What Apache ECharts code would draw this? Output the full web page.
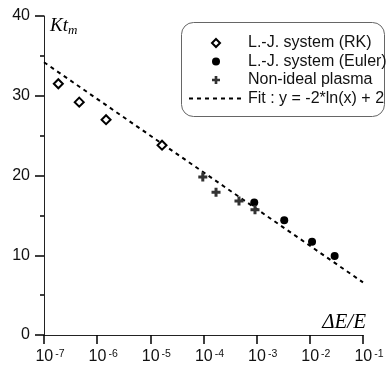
<!DOCTYPE html>
<html><head><meta charset="utf-8">
<script src="https://cdn.jsdelivr.net/npm/echarts@6/dist/echarts.min.js"></script>
<style>html,body{margin:0;padding:0;background:#fff}#c{width:387px;height:368px}</style>
</head><body><div id="c"></div>
<script>
// Data
const rkX = [1.86e-7, 4.6e-7, 1.47e-6, 1.66e-5];
const rkY = [31.5, 29.2, 27.0, 23.8];
const eulerX = [9.0e-4, 3.3e-3, 1.1e-2, 2.93e-2];
const eulerY = [16.6, 14.4, 11.7, 9.9];
const plasmaX = [9.7e-5, 1.72e-4, 4.65e-4, 9.3e-4];
const plasmaY = [19.8, 17.9, 16.8, 15.7];
const fitX = [1e-7, 1e-1];
const fitY = [34.2, 6.6];
const xTickExponents = ['-7', '-6', '-5', '-4', '-3', '-2', '-1'];
const yTicks = [0, 10, 20, 30, 40];
const seriesNames = ['L.-J. system (RK)', 'L.-J. system (Euler)', 'Non-ideal plasma', 'Fit : y = -2*ln(x) + 2'];

const zip = (xs, ys) => xs.map((x, i) => [x, ys[i]]);
const sans = 'Liberation Sans, Arial, Helvetica, sans-serif';
const serif = 'Liberation Serif, Times New Roman, serif';
const plusPath = 'path://M3,0 H6 V3 H9 V6 H6 V9 H3 V6 H0 V3 H3 Z';
const diamondPath = 'path://M5,0 L10,5 L5,10 L0,5 Z';
const tickLine = {color: '#000', width: 1.5};

const yMin = yTicks[0], yMax = yTicks[yTicks.length - 1];
const xMin = fitX[0], xMax = fitX[1];

const chart = echarts.init(document.getElementById('c'), null, {renderer: 'canvas'});
chart.setOption({
  animation: false,
  backgroundColor: '#fff',
  grid: {left: 44, right: 24, top: 16, bottom: 33, containLabel: false},
  xAxis: {
    type: 'log', logBase: 10, min: xMin, max: xMax, splitNumber: 6,
    name: '{n|ΔE/E}',
    nameLocation: 'end', nameGap: 3,
    nameTextStyle: {align: 'right', verticalAlign: 'bottom', padding: [0, 0, 2, 0],
      rich: {n: {fontFamily: serif, fontStyle: 'italic', fontSize: 21, color: '#000'}}},
    axisLine: {show: true, onZero: false, lineStyle: {color: '#222', width: 1}},
    axisTick: {show: true, length: 9, inside: false, lineStyle: tickLine},
    splitLine: {show: false},
    axisLabel: {
      margin: 14,
      formatter: function (v) {
        const e = Math.round(Math.log10(v));
        const s = xTickExponents.find(t => Number(t) === e) || String(e);
        return '{p|}{b|10}{e|' + s + '}';
      },
      rich: {
        p: {width: 12},
        b: {fontFamily: sans, fontSize: 16, color: '#111'},
        e: {fontFamily: sans, fontSize: 10.5, color: '#111', verticalAlign: 'top', padding: [0, 0, 0, 2]}
      }
    }
  },
  yAxis: {
    type: 'value', min: yMin, max: yMax, interval: 10,
    name: '{K|Kt}{m|m}',
    nameLocation: 'end', nameGap: -10,
    nameTextStyle: {align: 'left', verticalAlign: 'middle', padding: [0, 0, 0, 6],
      rich: {
        K: {fontFamily: serif, fontStyle: 'italic', fontSize: 19, color: '#000'},
        m: {fontFamily: serif, fontStyle: 'italic', fontSize: 13, color: '#000', verticalAlign: 'bottom', padding: [10, 0, 0, 0]}
      }},
    axisLine: {show: true, onZero: false, lineStyle: {color: '#222', width: 1}},
    axisTick: {show: true, length: 9, inside: false, lineStyle: tickLine},
    minorTick: {show: true, splitNumber: 2, length: 4, lineStyle: tickLine},
    splitLine: {show: false},
    axisLabel: {margin: 14, fontFamily: sans, fontSize: 16, color: '#111'}
  },
  graphic: [{
    type: 'rect', z: 0, silent: true,
    shape: {x: 181.5, y: 22.5, width: 203, height: 94, r: 12},
    style: {fill: 'rgba(255,255,255,0)', stroke: '#666', lineWidth: 1}
  }],
  legend: {
    show: true, orient: 'vertical', left: 188, top: 35,
    itemWidth: 54, itemHeight: 8, itemGap: 2.5, padding: 0,
    textStyle: {fontFamily: sans, fontSize: 16, color: '#111', lineHeight: 16},
    data: seriesNames
  },
  series: [
    {
      name: seriesNames[0], type: 'scatter', data: zip(rkX, rkY),
      symbol: diamondPath, symbolSize: 9, symbolKeepAspect: true,
      itemStyle: {color: '#fff', borderColor: '#000', borderWidth: 2, opacity: 1}
    },
    {
      name: seriesNames[1], type: 'scatter', data: zip(eulerX, eulerY),
      symbol: 'circle', symbolSize: 8,
      itemStyle: {color: '#000', opacity: 1}
    },
    {
      name: seriesNames[2], type: 'scatter', data: zip(plasmaX, plasmaY),
      symbol: plusPath, symbolSize: 9,
      itemStyle: {color: '#333', opacity: 1}
    },
    {
      name: seriesNames[3], type: 'line', data: zip(fitX, fitY),
      symbol: 'none', z: 1,
      itemStyle: {color: '#000', opacity: 0},
      lineStyle: {color: '#000', width: 2, type: [4, 4], opacity: 1}
    }
  ]
});
</script></body></html>
